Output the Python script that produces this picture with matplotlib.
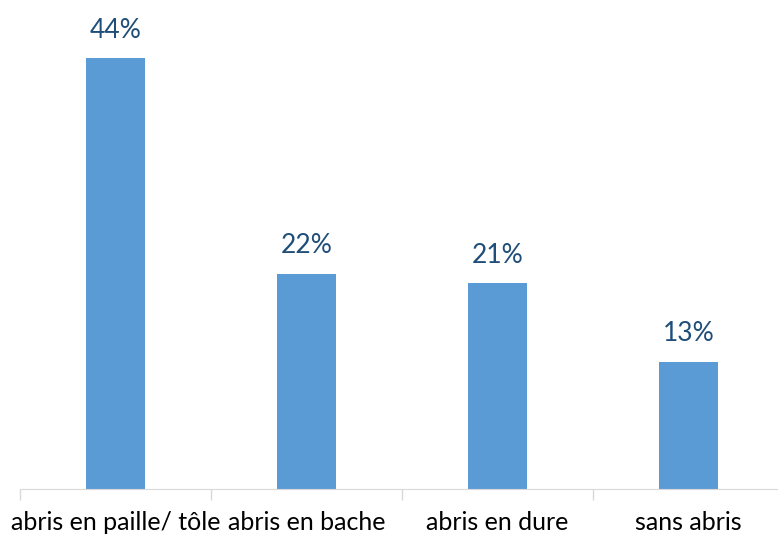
import matplotlib
matplotlib.use("Agg")
import matplotlib.pyplot as plt

categories = ["abris en paille/ tôle", "abris en bache", "abris en dure", "sans abris"]
values = [44, 22, 21, 13]
labels = ["44%", "22%", "21%", "13%"]

plt.rcParams['font.family'] = ['Lato', 'DejaVu Sans']

fig = plt.figure(figsize=(7.78, 5.34), dpi=100)
ax = fig.add_axes([20 / 778, 45 / 534, 764 / 778, 489 / 534])

x = range(len(categories))
ax.bar(x, values, width=0.31, color='#5B9BD5')
for xi, v, lab in zip(x, values, labels):
    ax.annotate(lab, (xi, v), xytext=(0, 11), textcoords='offset points',
                ha='center', va='bottom', fontsize=19, color='#1F4E79')

ax.set_xlim(-0.5, len(categories) - 0.5)
ax.set_ylim(0, 489 / 9.795)
ax.set_xticks([i - 0.5 for i in range(len(categories) + 1)])
ax.set_xticklabels([])
ax.tick_params(axis='x', length=8, color='#D9D9D9', width=1)
for xi, c in zip(x, categories):
    ax.annotate(c, (xi, 0), xytext=(0, -15.5), textcoords='offset points',
                ha='center', va='top', fontsize=18, color='black')
ax.set_yticks([])
for s in ['top', 'right', 'left']:
    ax.spines[s].set_visible(False)
ax.spines['bottom'].set_color('#D9D9D9')

fig.savefig('out.png', dpi=100)
